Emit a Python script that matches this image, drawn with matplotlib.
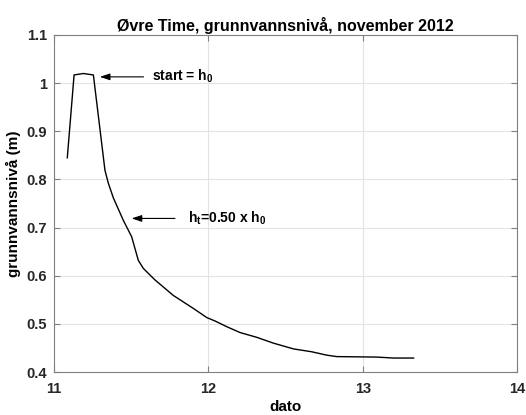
import matplotlib
matplotlib.use("Agg")
import matplotlib.pyplot as plt

plt.rcParams['font.family'] = ['Liberation Sans', 'DejaVu Sans']
plt.rcParams['font.weight'] = 'bold'
plt.rcParams['mathtext.fontset'] = 'custom'
plt.rcParams['mathtext.rm'] = 'Liberation Sans:bold'
plt.rcParams['mathtext.it'] = 'Liberation Sans:bold'
plt.rcParams['mathtext.bf'] = 'Liberation Sans:bold'

dato = [11.086, 11.13, 11.19, 11.255, 11.33, 11.352, 11.384, 11.449, 11.503,
        11.546, 11.579, 11.655, 11.773, 11.903, 11.99, 12.043, 12.12, 12.205,
        12.314, 12.421, 12.551, 12.67, 12.767, 12.832, 13.09, 13.2, 13.33]
niva = [0.845, 1.017, 1.02, 1.017, 0.819, 0.792, 0.762, 0.715, 0.681,
        0.632, 0.615, 0.591, 0.559, 0.532, 0.513, 0.506, 0.494, 0.482,
        0.472, 0.460, 0.448, 0.442, 0.435, 0.432, 0.431, 0.429, 0.429]

xticks = [11, 12, 13, 14]
yticks = [0.4, 0.5, 0.6, 0.7, 0.8, 0.9, 1.0, 1.1]
yticklabels = ['0.4', '0.5', '0.6', '0.7', '0.8', '0.9', '1', '1.1']

fig = plt.figure(figsize=(5.26, 4.15), dpi=100)
ax = fig.add_axes([0.1027, 0.1036, 0.8803, 0.8121])
ax.plot(dato, niva, color='black', lw=1.0)
ax.set_xlim(11, 14)
ax.set_ylim(0.4, 1.1)
ax.set_xticks(xticks)
ax.set_xticklabels([str(t) for t in xticks])
ax.set_yticks(yticks)
ax.set_yticklabels(yticklabels)
ax.grid(True, color='#e3e3e3', lw=0.8)
ax.set_axisbelow(True)
for s in ax.spines.values():
    s.set_color('#808080')
    s.set_linewidth(0.8)
ax.tick_params(direction='in', top=True, right=True, length=4, color='#808080',
               labelsize=10.5, labelcolor='#262626')
ax.tick_params(axis='x', pad=7)
ax.tick_params(axis='y', pad=5)
for lab in ax.get_xticklabels() + ax.get_yticklabels():
    lab.set_fontweight('bold')
ax.set_title('Øvre Time, grunnvannsnivå, november 2012', fontsize=11.5,
             fontweight='bold', pad=3)
ax.set_xlabel('dato', fontsize=11, fontweight='bold', labelpad=3)
ax.set_ylabel('grunnvannsnivå (m)', fontsize=11, fontweight='bold', labelpad=4)

arrow = dict(arrowstyle='-|>,head_length=0.6,head_width=0.2', color='black', lw=0.8,
             shrinkA=0, shrinkB=0)
ax.annotate('', xy=(11.297, 1.013), xytext=(11.58, 1.013), arrowprops=arrow)
ax.text(11.633, 1.015, 'start = h$_0$', fontsize=10, fontweight='bold', va='center')
ax.annotate('', xy=(11.503, 0.719), xytext=(11.784, 0.719), arrowprops=arrow)
ax.text(11.87, 0.719, 'h$_t$=0.50 x h$_0$', fontsize=10, fontweight='bold', va='center')

fig.savefig('out.png', dpi=100)
